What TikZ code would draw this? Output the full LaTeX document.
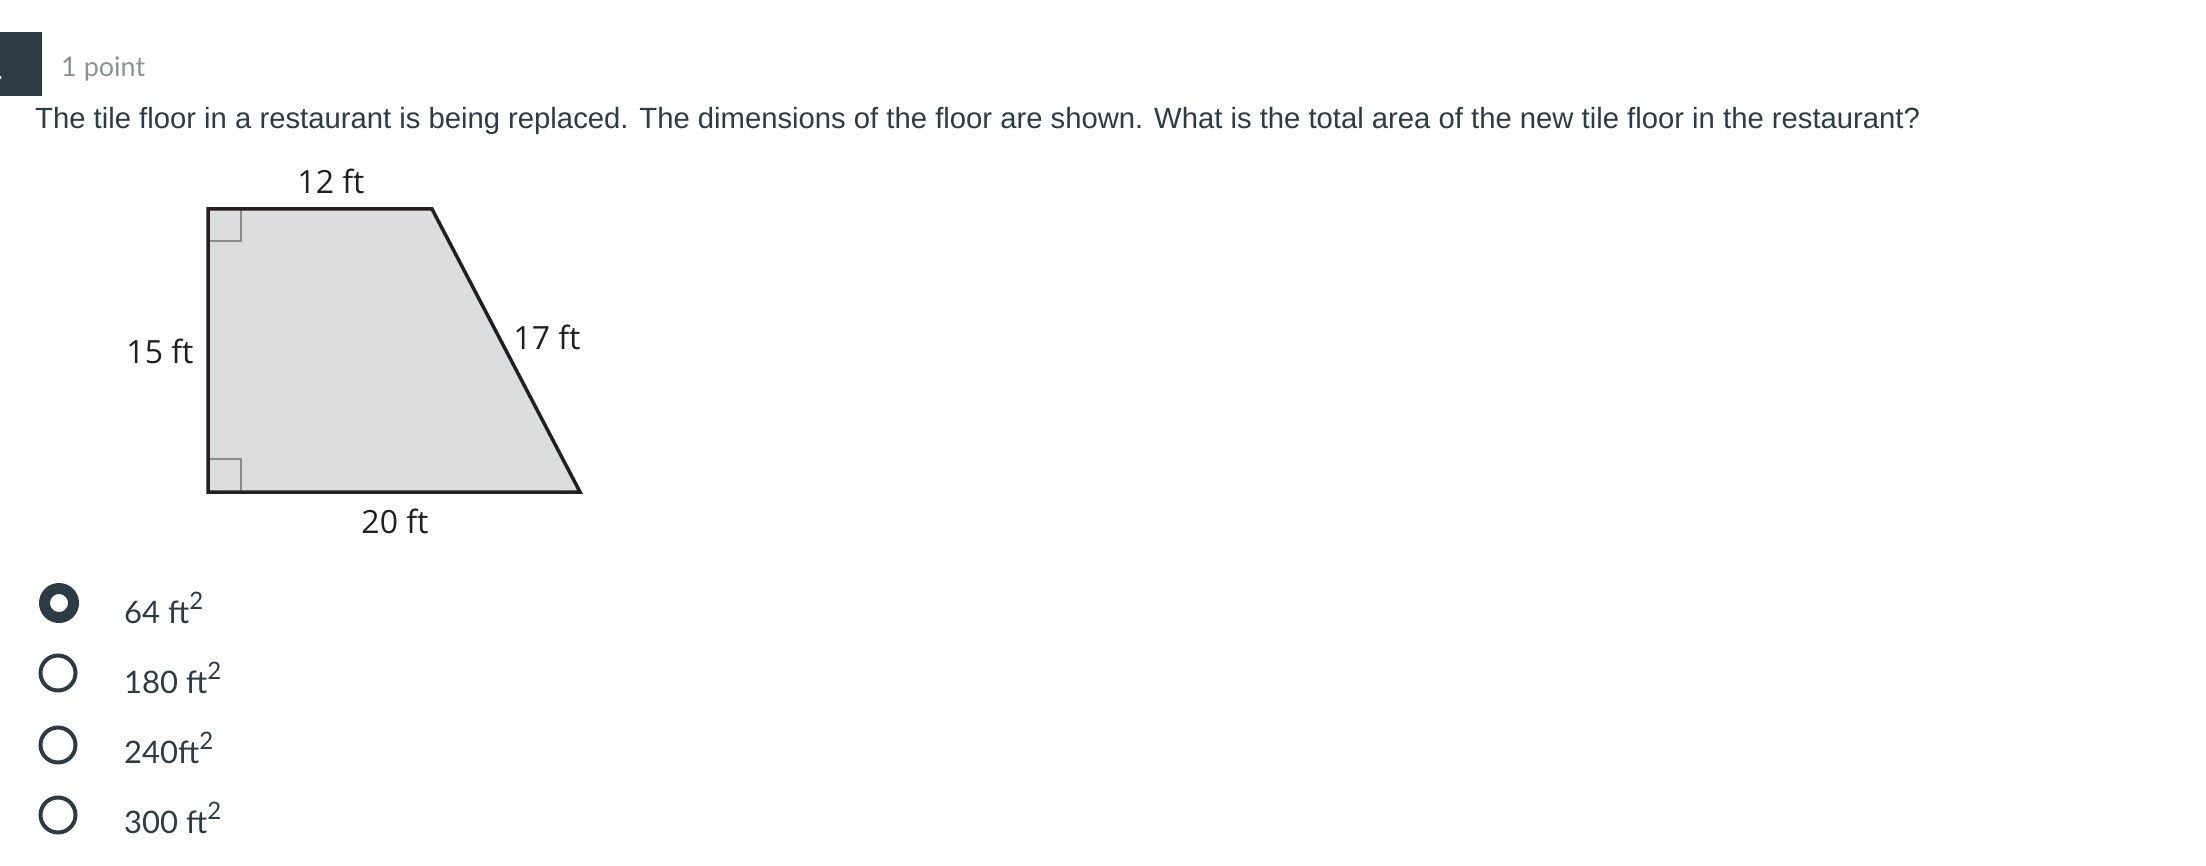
\documentclass[tikz,border=0pt]{standalone}
\usepackage{fontspec}
\setmainfont{Liberation Sans}
\newfontfamily\latofont{Lato}
\newfontfamily\figfont{Open Sans}
\definecolor{ink}{HTML}{2D3B45}
\definecolor{graytxt}{HTML}{8B939A}
\definecolor{floorfill}{HTML}{DCDDDF}
\definecolor{edge}{HTML}{231F20}
\definecolor{marks}{HTML}{8A8A8A}
\newcommand{\sqft}{\raisebox{14pt}{\fontsize{24}{26}\selectfont 2}}
\tikzset{
  qtext/.style={inner sep=0pt, anchor=base west, text=ink, font=\fontsize{29.25}{34}\selectfont},
  figlabel/.style={inner sep=0pt, text=edge, font=\figfont\fontsize{32}{36}\selectfont},
  optlabel/.style={inner sep=0pt, anchor=base west, text=ink, font=\latofont\fontsize{31}{34}\selectfont},
  radio/.style={circle, draw=ink, line width=4pt, minimum size=35pt, inner sep=0pt},
  radiosel/.style={circle, draw=ink, line width=11pt, minimum size=29pt, inner sep=0pt, fill=white},
}
\begin{document}
\begin{tikzpicture}[x=1pt, y=-1pt]
\useasboundingbox (0,0) rectangle (2206,866);
\fill[white] (0,0) rectangle (2206,866);
% header
\fill[ink] (0,32) rectangle (42,96);
\node[inner sep=0pt, text=white, font=\fontsize{28}{30}\selectfont, anchor=base east] (num) at (4,80) {.};
\node[inner sep=0pt, anchor=base west, text=graytxt, font=\latofont\fontsize{27}{32}\selectfont] (pts) at (61,77) {1 point};
\node[qtext] (q) at (35,129) {The tile floor in a restaurant is being replaced. The dimensions of the floor are shown. What is the total area of the new tile floor in the restaurant?};
% figure
\coordinate (tl) at (208,209);
\coordinate (tr) at (432,209);
\coordinate (br) at (580,492);
\coordinate (bl) at (208,492);
\fill[floorfill] (tl) -- (tr) -- (br) -- (bl) -- cycle;
\draw[marks, line width=1.6pt] (208,241) -- (241,241) -- (241,209);
\draw[marks, line width=1.6pt] (208,459) -- (241,459) -- (241,492);
\draw[edge, line width=3.5pt, line join=miter] (tl) -- (tr) -- (br) -- (bl) -- cycle;
\node[figlabel] (l12) at (331,181) {12 ft};
\node[figlabel] (l17) at (547,337) {17 ft};
\node[figlabel] (l15) at (160,351) {15 ft};
\node[figlabel] (l20) at (395,521) {20 ft};
% options
\node[radiosel] (r1) at (59,603) {};
\node[radio] (r2) at (58,673) {};
\node[radio] (r3) at (58,745) {};
\node[radio] (r4) at (58,815) {};
\node[optlabel] (o1) at (124,623) {64 ft\sqft};
\node[optlabel] (o2) at (124,693) {180 ft\sqft};
\node[optlabel] (o3) at (124,763) {240ft\sqft};
\node[optlabel] (o4) at (124,833) {300 ft\sqft};
\end{tikzpicture}
\end{document}
